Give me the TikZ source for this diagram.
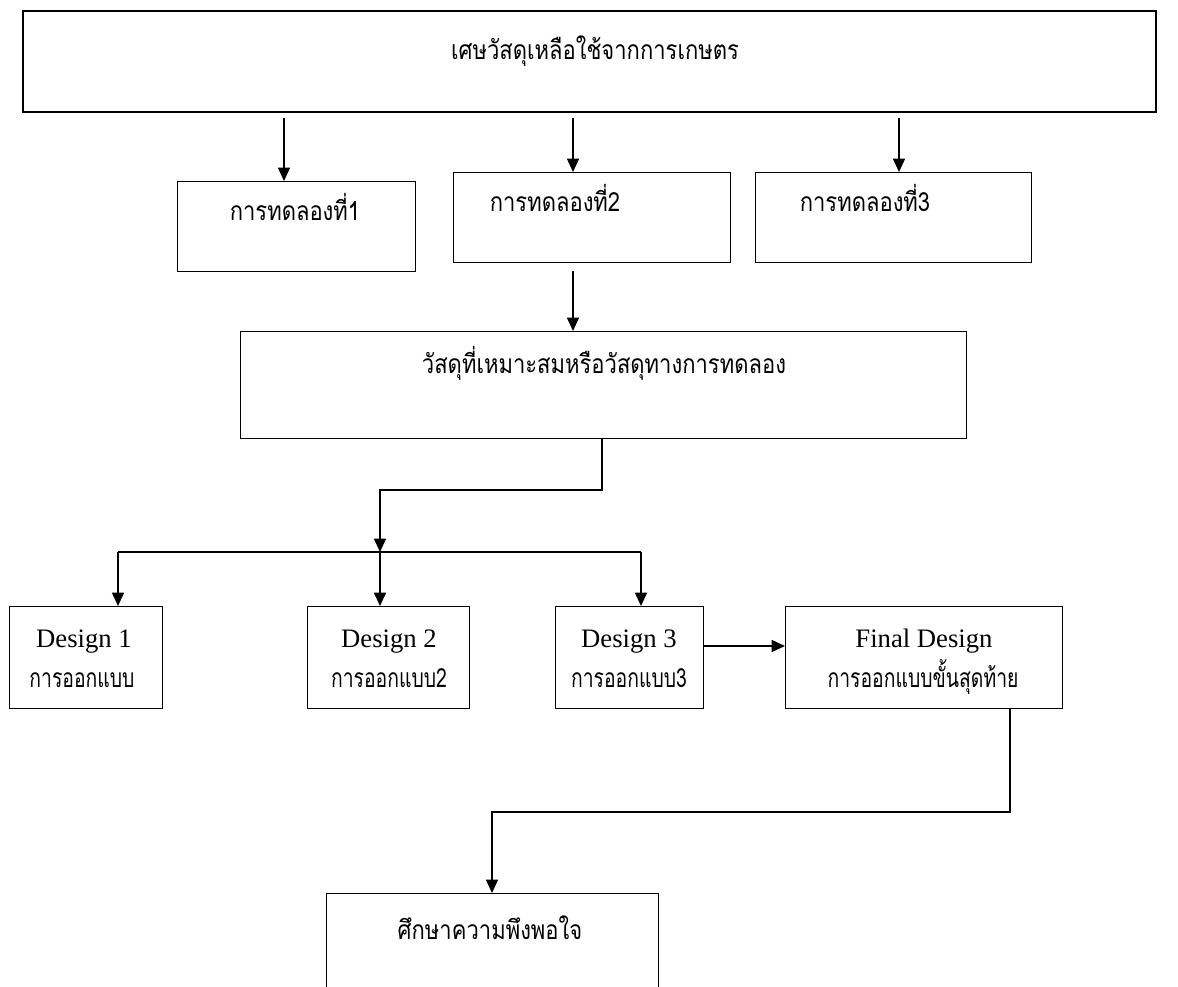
\documentclass[tikz,border=0pt]{standalone}
\usepackage{fontspec}
\usepackage{graphicx}
\setmainfont{Liberation Serif}
\newfontfamily\thaifont[Script=Thai]{Loma}
\newcommand{\tht}[1]{\scalebox{1}[1.2]{#1}}
\newcommand{\thn}[1]{\scalebox{0.88}[1.2]{#1}}
\usetikzlibrary{arrows.meta,calc}
\begin{document}
\begin{tikzpicture}[x=0.75pt,y=-0.75pt,line width=1.1pt,
  bx/.style n args={2}{draw,inner sep=0pt,anchor=north west,minimum width=#1*0.75pt,minimum height=#2*0.75pt},
  th/.style={font=\thaifont\fontsize{16.5pt}{20pt}\selectfont,inner sep=0pt,anchor=base},
  en/.style={font=\fontsize{20pt}{24pt}\selectfont,inner sep=0pt,anchor=base},
  arr/.style={-{Triangle[width=9pt,length=10pt]}}]
\useasboundingbox (0,0) rectangle (1178,987);
\clip (0,0) rectangle (1178,987);
% boxes
\node[bx={1133}{101},line width=1.6pt] (top) at (22,10) {};
\node[bx={238}{90}] (b1) at (177,181) {};
\node[bx={277}{90}] (b2) at (453,172) {};
\node[bx={276}{90}] (b3) at (755,172) {};
\node[bx={726}{107}] (mid) at (240,331) {};
\node[bx={153}{102}] (d1) at (9,606) {};
\node[bx={162}{102}] (d2) at (307,606) {};
\node[bx={148}{102}] (d3) at (555,606) {};
\node[bx={277}{102}] (fd) at (785,606) {};
\node[bx={332}{120}] (sat) at (326,893) {};
% texts
\node[th] (ttop) at (595,60) {\tht{เศษวัสดุเหลือใช้จากการเกษตร}};
\node[th] (tb1) at (295,221) {\tht{การทดลองที่1}};
\node[th] (tb2) at (555,212) {\tht{การทดลองที่2}};
\node[th] (tb3) at (865,212) {\tht{การทดลองที่3}};
\node[th] (tmid) at (604,374) {\tht{วัสดุที่เหมาะสมหรือวัสดุทางการทดลอง}};
\node[en] (td1a) at (84,647) {Design 1};
\node[th] (td1b) at (82,687) {\thn{การออกแบบ}};
\node[en] (td2a) at (389,647) {Design 2};
\node[th] (td2b) at (389,687) {\thn{การออกแบบ2}};
\node[en] (td3a) at (629,647) {Design 3};
\node[th] (td3b) at (629,687) {\thn{การออกแบบ3}};
\node[en] (tfda) at (924,647) {Final Design};
\node[th] (tfdb) at (923,687) {\thn{การออกแบบขั้นสุดท้าย}};
\node[th] (tsat) at (490,939) {\tht{ศึกษาความพึงพอใจ}};
% coordinates
\coordinate (a1) at (284,118);
\coordinate (a2) at (573,118);
\coordinate (a3) at (899,118);
\coordinate (j1) at (602,490);
\coordinate (j2) at (380,490);
\coordinate (h) at (380,552);
\coordinate (hl) at (118,552);
\coordinate (hr) at (641,552);
\coordinate (k1) at (1010,812);
\coordinate (k2) at (492,812);
% connectors
\draw[arr] (a1) -- (a1 |- b1.north);
\draw[arr] (a2) -- (a2 |- b2.north);
\draw[arr] (a3) -- (a3 |- b3.north);
\draw[arr] (b2.south -| 573,0) ++(0,8) -- (573,0 |- mid.north);
\draw[arr] (mid.south -| j1) -- (j1) -- (j2) -- (h);
\draw (hl) -- (hr);
\draw[arr] (hl) -- (hl |- d1.north);
\draw[arr] (h) -- (h |- d2.north);
\draw[arr] (hr) -- (hr |- d3.north);
\draw[arr] (d3.east |- 0,646) -- (fd.west |- 0,646);
\draw[arr] (fd.south -| k1) -- (k1) -- (k2) -- (k2 |- sat.north);
\end{tikzpicture}
\end{document}
